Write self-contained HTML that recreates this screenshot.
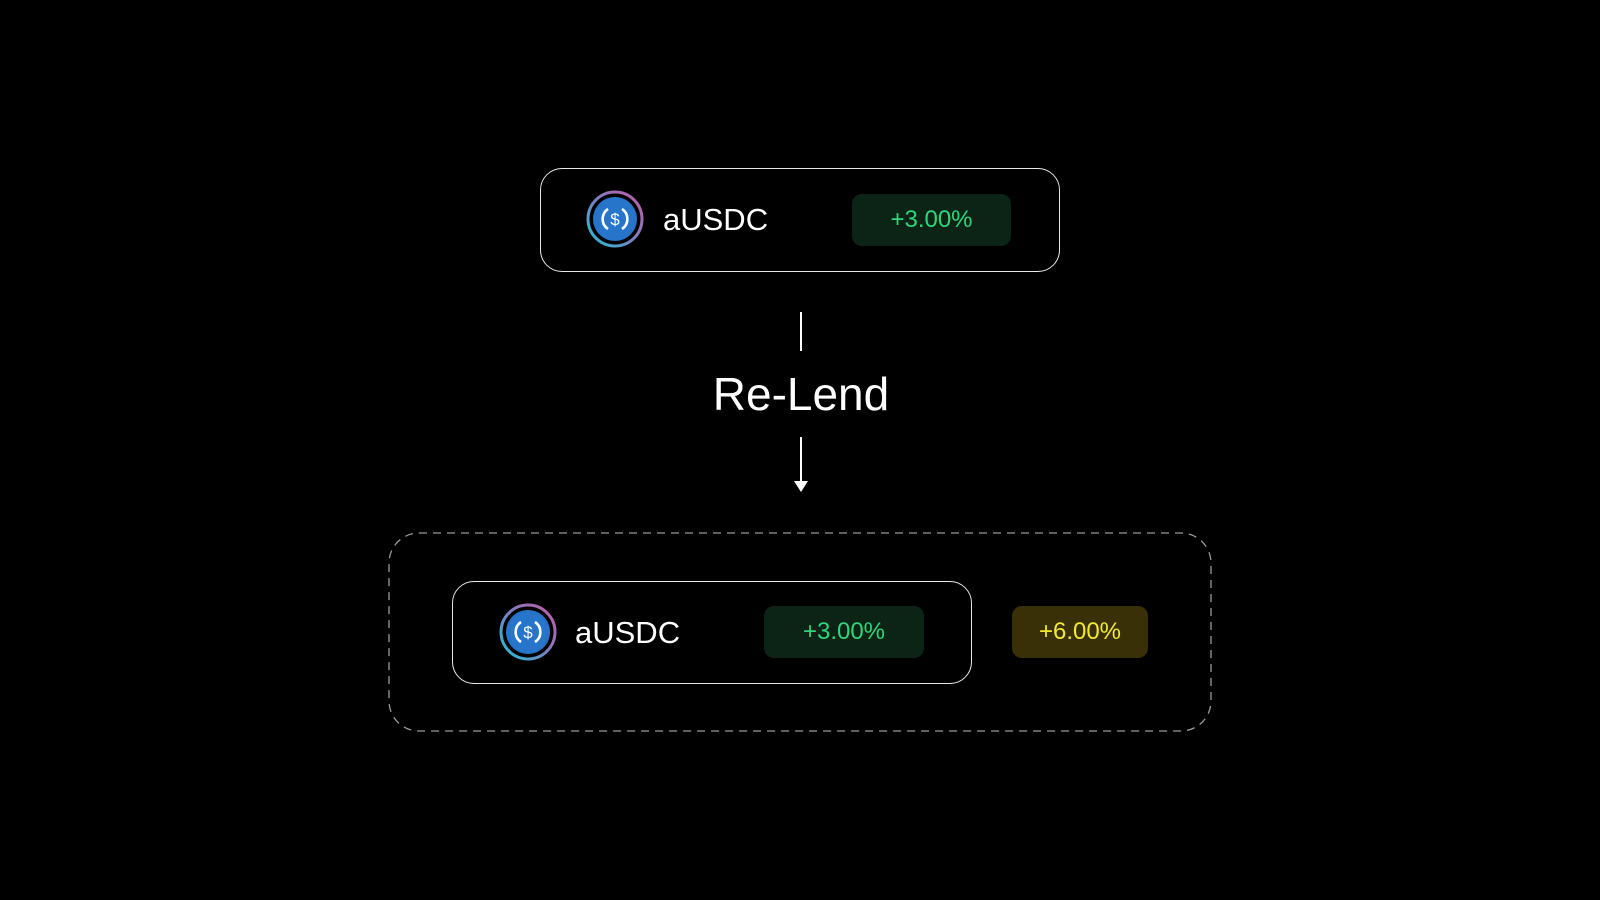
<!DOCTYPE html>
<html><head><meta charset="utf-8"><style>
body{margin:0;width:1600px;height:900px;background:#000;overflow:hidden;position:relative;font-family:"Liberation Sans",sans-serif;color:#fff}
.a{position:absolute;box-sizing:border-box}
.box{border:1.5px solid #e8e8e8;border-radius:22px}
.pill{border-radius:10px;display:flex;align-items:center;justify-content:center;font-size:24px}
.g{background:#0c2416;color:#2fd57a}
.y{background:#3a3008;color:#f2ea30}
.t{font-size:31px;line-height:40px}
</style></head><body>
<svg width="0" height="0" style="position:absolute"><defs>
<linearGradient id="rg" x1="1" y1="0" x2="0" y2="1"><stop offset="0" stop-color="#c65aa8"/><stop offset="0.5" stop-color="#7a7fc0"/><stop offset="1" stop-color="#20c0d8"/></linearGradient>
<g id="ic"><circle cx="29" cy="29" r="27" fill="none" stroke="url(#rg)" stroke-width="3"/><circle cx="29" cy="29" r="22" fill="#2775ca"/>
<path d="M22 19 A12 12 0 0 0 22 39 M36 19 A12 12 0 0 1 36 39" fill="none" stroke="#fff" stroke-width="2.6"/>
<text x="29" y="35" text-anchor="middle" font-family="Liberation Sans" font-size="17" fill="#fff">$</text></g>
</defs></svg>

<div class="a box" style="left:540px;top:168px;width:520px;height:104px"></div>
<svg class="a" style="left:586px;top:190px" width="58" height="58"><use href="#ic"/></svg>
<div class="a t" style="left:663px;top:200px">aUSDC</div>
<div class="a pill g" style="left:852px;top:194px;width:159px;height:52px">+3.00%</div>

<div class="a" style="left:800px;top:312px;width:2px;height:39px;background:#fff"></div>
<div class="a" style="left:601px;top:367px;width:400px;text-align:center;font-size:46px;line-height:54px">Re-Lend</div>
<div class="a" style="left:800px;top:437px;width:2px;height:46px;background:#fff"></div>
<svg class="a" style="left:794px;top:481px" width="14" height="12"><polygon points="0,0 14,0 7,11" fill="#fff"/></svg>

<svg class="a" style="left:388px;top:532px" width="826" height="202"><rect x="1" y="1" width="822" height="198" rx="30" fill="none" stroke="#9a9a9a" stroke-width="1.3" stroke-dasharray="8 6"/></svg>
<div class="a box" style="left:452px;top:581px;width:520px;height:103px"></div>
<svg class="a" style="left:499px;top:603px" width="58" height="58"><use href="#ic"/></svg>
<div class="a t" style="left:575px;top:613px">aUSDC</div>
<div class="a pill g" style="left:764px;top:606px;width:160px;height:52px">+3.00%</div>
<div class="a pill y" style="left:1012px;top:606px;width:136px;height:52px">+6.00%</div>
</body></html>
